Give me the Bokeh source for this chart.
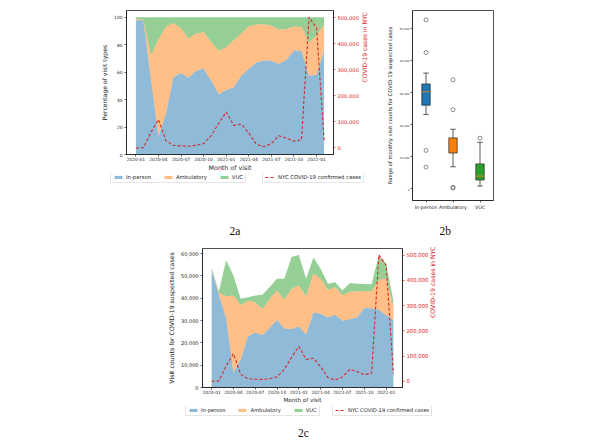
import math
import numpy as np
from bokeh.plotting import figure
from bokeh.models import (Range1d, LinearAxis, FixedTicker, NumeralTickFormatter,
                          Legend, LegendItem, Label, Spacer, ColumnDataSource)
from bokeh.layouts import column, row
from bokeh.embed import file_html
from bokeh.resources import INLINE

# ---------------- data ----------------
months = ["2020-01", "2020-02", "2020-03", "2020-04", "2020-05", "2020-06",
          "2020-07", "2020-08", "2020-09", "2020-10", "2020-11", "2020-12",
          "2021-01", "2021-02", "2021-03", "2021-04", "2021-05", "2021-06",
          "2021-07", "2021-08", "2021-09", "2021-10", "2021-11", "2021-12",
          "2022-01", "2022-02"]
tick_months = months[::3]

# 2a: percentage of visit types
pct_in_person = [97.8, 97.8, 55.0, 13.3, 30.0, 56.5, 59.5, 56.0, 61.0, 62.6, 54.0, 44.0, 47.0,
                 49.0, 57.5, 62.6, 67.0, 68.5, 68.3, 66.0, 69.0, 76.0, 75.4, 57.5, 58.2, 76.0]
pct_ambulatory = [1.0, 0.5, 17.2, 70.7, 63.4, 39.3, 32.5, 28.5, 27.2, 26.8, 28.0, 31.7, 31.4,
                  34.3, 30.7, 30.8, 27.8, 26.5, 25.7, 25.0, 22.6, 17.4, 17.5, 24.1, 28.8, 18.8]
pct_vuc = [1.2, 1.7, 27.8, 16.0, 6.6, 4.2, 8.0, 15.5, 11.8, 10.6, 18.0, 24.3, 21.6,
           16.7, 11.8, 6.6, 5.2, 5.0, 6.0, 9.0, 8.4, 6.6, 7.1, 18.4, 13.0, 5.2]

# 2c: visit counts for COVID-19 suspected cases
visits_in_person = [52500, 41800, 31000, 6800, 12500, 23000, 24600, 23400, 26800, 30300, 26400,
                    26200, 27300, 23800, 33600, 33000, 31400, 32600, 29900, 30600, 31400, 35600,
                    35500, 34800, 32400, 30400]
visits_ambulatory = [500, 700, 9900, 34400, 24500, 15900, 13600, 11700, 12900, 13100, 13000,
                     18000, 18400, 17100, 17400, 15700, 12300, 12400, 11300, 12400, 11600, 7600,
                     7500, 13400, 16500, 6300]
visits_vuc = [600, 500, 16100, 9000, 2700, 1500, 3000, 6400, 5300, 5300, 9300, 14300, 13600,
              7800, 7200, 4500, 2800, 2200, 2200, 3800, 3500, 3200, 3300, 11000, 6600, 2200]

# NYC COVID-19 confirmed cases (both panels)
nyc_cases = [0, 1000, 60000, 109000, 27000, 10000, 8000, 6500, 10000, 17000, 47000, 95000,
             138000, 86000, 91000, 57000, 14000, 5000, 17000, 47000, 38000, 26000, 31000,
             502000, 460000, 30000]

# 2b: box plot statistics of monthly visit counts
box_categories = ["In-person", "Ambulatory", "VUC"]
box_q1 = [26100, 11200, 2800]
box_median = [30300, 13600, 4000]
box_q3 = [32700, 15900, 7800]
box_whisker_low = [23200, 6900, 900]
box_whisker_high = [36100, 18600, 14500]
box_outliers = [[52700, 42500, 12000, 6800], [34000, 24700, 500, 300], [15800]]

series_names = ["In-person", "Ambulatory", "VUC"]
case_label = "NYC COVID-19 confirmed cases"

# ---------------- style ----------------
FONT = "DejaVu Sans"
TXT = "#222222"
RED_TXT = "#e02424"
RED_LINE = "#d62728"
AREA_COLORS = ["#1f77b4", "#ff7f0e", "#2ca02c"]
DASH = "3 2"


def no_align(p):
    if "frame_align" in p.properties():
        p.frame_align = False


def style_axis(ax, tick_px, label_px, color=TXT, standoff=2, label_standoff=3):
    ax.major_label_text_font = FONT
    ax.major_label_text_font_size = f"{tick_px}px"
    ax.major_label_text_color = color
    ax.axis_label_text_font = FONT
    ax.axis_label_text_font_size = f"{label_px}px"
    ax.axis_label_text_font_style = "normal"
    ax.axis_label_text_color = color
    ax.major_tick_out = 2
    ax.major_tick_in = 0
    ax.major_tick_line_color = color
    ax.major_tick_line_width = 0.7
    ax.minor_tick_line_color = None
    ax.axis_line_color = "#222222"
    ax.axis_line_width = 0.8
    ax.major_label_standoff = standoff
    ax.axis_label_standoff = label_standoff


def base_fig(fw, fh, left, right, top, bottom, xr, yr):
    p = figure(frame_width=fw, frame_height=fh, min_border_left=left, min_border_right=right,
               min_border_top=top, min_border_bottom=bottom, x_range=xr, y_range=yr,
               output_backend="svg", toolbar_location=None, tools="")
    no_align(p)
    p.xgrid.visible = False
    p.ygrid.visible = False
    p.outline_line_color = "#222222"
    p.outline_line_width = 0.8
    p.background_fill_color = "white"
    p.border_fill_color = "white"
    return p


def make_legend(items, loc, font_px):
    lg = Legend(items=items, location=loc, orientation="horizontal")
    lg.label_text_font = FONT
    lg.label_text_font_size = f"{font_px}px"
    lg.label_text_color = TXT
    lg.glyph_width = 10
    lg.glyph_height = 4
    lg.label_height = 6
    lg.label_width = 0
    lg.label_standoff = 3
    lg.spacing = 12
    lg.padding = 2
    lg.margin = 0
    lg.border_line_color = "#cccccc"
    lg.border_line_width = 0.8
    lg.background_fill_alpha = 1.0
    return lg


def footer(width, height, tag, tag_pos, leg_font=None, leg1_loc=None, leg2_loc=None):
    """Strip under a panel: legends (keyed like the panel's marks) and the panel tag."""
    f = figure(width=width, height=height, x_range=Range1d(0, 1), y_range=Range1d(0, 1),
               x_axis_location=None, y_axis_location=None, min_border=0,
               output_backend="svg", toolbar_location=None, tools="")
    no_align(f)
    f.grid.visible = False
    f.outline_line_color = None
    f.background_fill_color = "white"
    f.border_fill_color = "white"
    if leg1_loc is not None:
        blank = np.array([np.nan])
        keys = [f.varea(x=blank, y1=blank, y2=blank, fill_color=c, fill_alpha=0.5)
                for c in AREA_COLORS]
        ln = f.line(x=blank, y=blank, line_color=RED_LINE, line_width=1.1, line_dash=DASH)
        f.add_layout(make_legend([LegendItem(label=nm, renderers=[r])
                                  for nm, r in zip(series_names, keys)], leg1_loc, leg_font))
        f.add_layout(make_legend([LegendItem(label=case_label, renderers=[ln])],
                                 leg2_loc, leg_font))
    f.add_layout(Label(x=tag_pos[0], y=tag_pos[1], x_units="screen", y_units="screen",
                       text=tag, text_font="Liberation Serif", text_font_size="11.5px",
                       text_align="center", text_baseline="middle", text_color="#111111"))
    return f


def stack_panel(s1, s2, s3, y_end, y_ticks, y_fmt, y_label, fw, fh, left, right, top, bottom,
                tick_px, left_tick_px, right_tick_px, xlab_px, ylab_px, right_standoff):
    x_idx = list(range(len(months)))
    src = ColumnDataSource(dict(x=x_idx, s1=s1, s2=s2, s3=s3, cases=nyc_cases))
    n = len(months)
    pad = 0.05 * (n - 1)
    p = base_fig(fw, fh, left, right, top, bottom, Range1d(-pad, n - 1 + pad), Range1d(0, y_end))
    c_lo, c_hi = min(nyc_cases), max(nyc_cases)
    c_pad = 0.05 * (c_hi - c_lo)
    p.extra_y_ranges = {"cases": Range1d(c_lo - c_pad, c_hi + c_pad)}

    p.varea_stack(["s1", "s2", "s3"], x="x", source=src, fill_color=AREA_COLORS, fill_alpha=0.5)
    p.line(x="x", y="cases", source=src, y_range_name="cases",
           line_color=RED_LINE, line_width=1.1, line_dash=DASH)

    xa = p.xaxis[0]
    xa.ticker = FixedTicker(ticks=x_idx[::3])
    xa.major_label_overrides = {i: m for i, m in zip(x_idx[::3], tick_months)}
    xa.axis_label = "Month of visit"
    style_axis(xa, tick_px, xlab_px, standoff=0, label_standoff=0)

    ya = p.yaxis[0]
    ya.ticker = FixedTicker(ticks=y_ticks)
    if y_fmt:
        ya.formatter = NumeralTickFormatter(format=y_fmt)
    ya.axis_label = y_label
    style_axis(ya, left_tick_px, ylab_px, standoff=2, label_standoff=3)

    ra = LinearAxis(y_range_name="cases", axis_label="COVID-19 cases in NYC",
                    ticker=FixedTicker(ticks=[0, 100000, 200000, 300000, 400000, 500000]),
                    formatter=NumeralTickFormatter(format="0,0"))
    style_axis(ra, right_tick_px, ylab_px, color=RED_TXT, standoff=2,
               label_standoff=right_standoff)
    ra.axis_label_orientation = math.pi / 2
    p.add_layout(ra, "right")
    return p


# ---------------- 2a ----------------
p_a = stack_panel(pct_in_person, pct_ambulatory, pct_vuc, 105, [0, 20, 40, 60, 80, 100], None,
                  "Percentage of visit types", 207, 144, 126, 39, 10, 19,
                  4.4, 4.4, 5.2, 6.3, 6.1, 3)
f_a = footer(372, 67, "2a", (234.5, 10), 5.3, (110, 57), (262, 57))

# ---------------- 2c ----------------
totals = [a + b + c for a, b, c in zip(visits_in_person, visits_ambulatory, visits_vuc)]
p_c = stack_panel(visits_in_person, visits_ambulatory, visits_vuc, max(totals) * 1.05,
                  [0, 10000, 20000, 30000, 40000, 50000, 60000], "0,0",
                  "Visit counts for COVID-19 suspected cases", 200, 139, 64, 40, 8, 19,
                  4.4, 5.0, 5.3, 5.6, 6.2, 1)
f_c = footer(304, 38, "2c", (165, 12), 5.2, (47, 28), (194, 28))

# ---------------- 2b ----------------
p_b = base_fig(81, 190, 38, 9, 10, 12, Range1d(0.5, len(box_categories) + 0.5),
               Range1d(-3600, 55600))
xs = np.arange(1, len(box_categories) + 1)
bw = 0.31
cw = 0.2
p_b.segment(x0=xs, y0=box_q3, x1=xs, y1=box_whisker_high, line_color="#333333", line_width=0.8)
p_b.segment(x0=xs, y0=box_q1, x1=xs, y1=box_whisker_low, line_color="#333333", line_width=0.8)
p_b.segment(x0=xs - cw / 2, y0=box_whisker_high, x1=xs + cw / 2, y1=box_whisker_high,
            line_color="#333333", line_width=0.8)
p_b.segment(x0=xs - cw / 2, y0=box_whisker_low, x1=xs + cw / 2, y1=box_whisker_low,
            line_color="#333333", line_width=0.8)
p_b.vbar(x=xs, width=bw, top=box_q3, bottom=box_q1, fill_color=AREA_COLORS,
         line_color="#222222", line_width=0.7)
p_b.segment(x0=xs - bw / 2, y0=box_median, x1=xs + bw / 2, y1=box_median,
            line_color="#ff7f0e", line_width=0.8)
ox = [x for x, outs in zip(xs, box_outliers) for _ in outs]
oy = [v for outs in box_outliers for v in outs]
p_b.scatter(x=ox, y=oy, marker="circle", size=4, fill_color=None, line_color="#444444",
            line_width=0.6)

bxa = p_b.xaxis[0]
bxa.ticker = FixedTicker(ticks=list(xs))
bxa.major_label_overrides = {int(x): c for x, c in zip(xs, box_categories)}
style_axis(bxa, 4.8, 5.2, standoff=2)
bya = p_b.yaxis[0]
bya.ticker = FixedTicker(ticks=[0, 10000, 20000, 30000, 40000, 50000])
bya.formatter = NumeralTickFormatter(format="0,0")
bya.axis_label = "Range of monthly visit counts for COVID-19 suspected cases"
style_axis(bya, 2.8, 5.2, standoff=1, label_standoff=4)
f_b = footer(128, 28, "2b", (70.7, 10))

layout = column(row(column(p_a, f_a), column(p_b, f_b)),
                row(Spacer(width=138, height=10), column(p_c, f_c)))
open("out.html", "w").write(file_html(layout, INLINE))
